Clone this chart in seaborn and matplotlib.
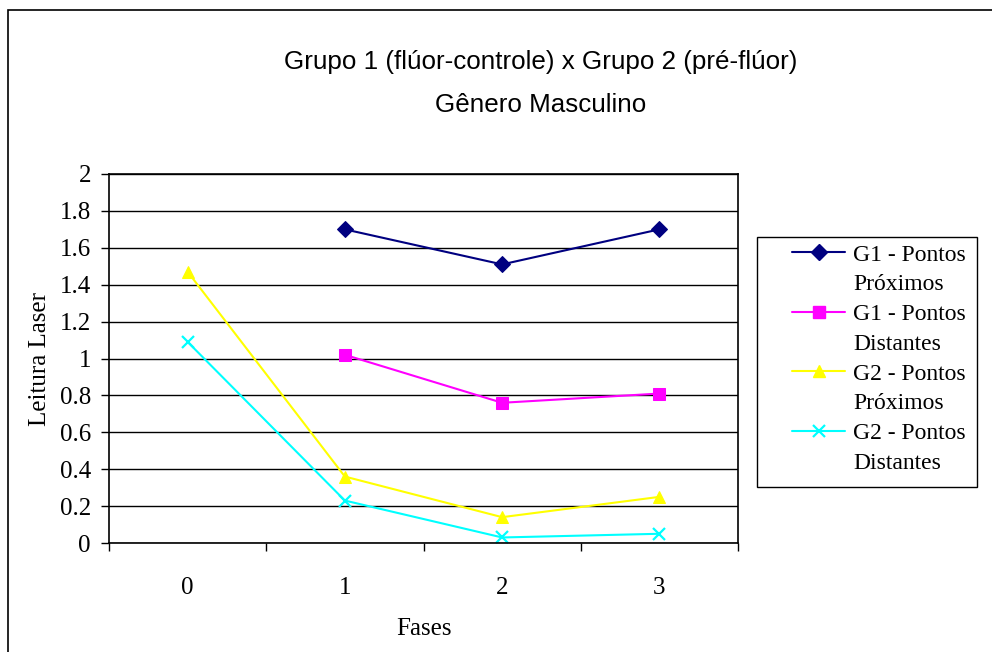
import matplotlib
matplotlib.use("Agg")
import matplotlib.pyplot as plt
from matplotlib.patches import Rectangle
from matplotlib.lines import Line2D
from matplotlib.ticker import FixedLocator, NullFormatter
import seaborn as sns
import pandas as pd

# Laser readings per phase for each group / measuring point
fases = [0, 1, 2, 3]
g1_proximos = [None, 1.70, 1.51, 1.70]
g1_distantes = [None, 1.02, 0.76, 0.81]
g2_proximos = [1.47, 0.36, 0.14, 0.25]
g2_distantes = [1.09, 0.23, 0.03, 0.05]

series_names = ["G1 - Pontos Próximos", "G1 - Pontos Distantes",
                "G2 - Pontos Próximos", "G2 - Pontos Distantes"]
series_values = [g1_proximos, g1_distantes, g2_proximos, g2_distantes]
y_ticks = [0, 0.2, 0.4, 0.6, 0.8, 1, 1.2, 1.4, 1.6, 1.8, 2]
y_tick_labels = ["0", "0.2", "0.4", "0.6", "0.8", "1", "1.2", "1.4", "1.6", "1.8", "2"]

rows = []
for name, vals in zip(series_names, series_values):
    for f, v in zip(fases, vals):
        if v is not None:
            rows.append({"Fases": f, "Leitura Laser": v, "Serie": name})
df = pd.DataFrame(rows)

sns.set_theme(style="white")
plt.rcParams["font.family"] = ["Liberation Serif", "DejaVu Serif"]
for key in ["text.color", "axes.labelcolor", "xtick.color", "ytick.color"]:
    plt.rcParams[key] = "black"

colors = ["#000080", "#FF00FF", "#FFFF00", "#00FFFF"]
markers = ["D", "s", "^", "x"]

fig = plt.figure(figsize=(9.92, 6.52), dpi=100)
ax = fig.add_axes([109 / 992, 1 - 543 / 652, (738 - 109) / 992, (543 - 174) / 652])

def marker_style(mk, col):
    if mk == "x":
        return dict(marker="x", markersize=9, markeredgewidth=1.6, markeredgecolor=col)
    return dict(marker=mk, markersize=8, markeredgecolor=col, markerfacecolor=col)

for name, col, mk in zip(series_names, colors, markers):
    sub = df[df["Serie"] == name]
    sns.lineplot(data=sub, x="Fases", y="Leitura Laser", color=col, linewidth=1.5,
                 ax=ax, legend=False, **marker_style(mk, col))

ax.set_xlim(-0.5, 3.5)
ax.set_ylim(0, 2)
ax.set_yticks(y_ticks)
ax.set_yticklabels(y_tick_labels, fontsize=18)
ax.set_xticks(fases)
ax.set_xticklabels([str(f) for f in fases], fontsize=18)
ax.xaxis.set_minor_locator(FixedLocator([-0.5, 0.5, 1.5, 2.5, 3.5]))
ax.xaxis.set_minor_formatter(NullFormatter())
ax.tick_params(axis="x", which="both", bottom=True)
ax.tick_params(axis="y", which="both", left=True)
ax.tick_params(axis="x", which="major", length=0, pad=24.5)
ax.tick_params(axis="x", which="minor", length=6, width=1, direction="out", color="black")
ax.tick_params(axis="y", which="major", length=6, width=1, direction="out", color="black", pad=7)
ax.grid(axis="y", color="black", linewidth=1)
ax.set_axisbelow(True)
for s in ax.spines.values():
    s.set_color("black")
    s.set_linewidth(1.2)
ax.set_xlabel("Fases", fontsize=18, labelpad=14)
ax.set_ylabel("Leitura Laser", fontsize=18, labelpad=6)

sans = ["Liberation Sans", "DejaVu Sans"]
fig.text(541 / 992, 1 - 62 / 652, "Grupo 1 (flúor-controle) x Grupo 2 (pré-flúor)",
         ha="center", va="center", fontsize=18.7, family=sans)
fig.text(541 / 992, 1 - 105 / 652, "Gênero Masculino",
         ha="center", va="center", fontsize=18.7, family=sans)

# legend: each series label wraps onto a second line, handle sits on the first
handles, labels = [], []
for name, col, mk in zip(series_names, colors, markers):
    first, second = name.split(" Pontos ")
    handles.append(Line2D([], [], color=col, linewidth=1.5, **marker_style(mk, col)))
    labels.append(first + " Pontos")
    handles.append(Line2D([], [], linestyle="none", marker=None))
    labels.append(second)

fig.legend(handles, labels, loc="upper left",
           bbox_to_anchor=(792 / 992, 1 - 244 / 652), fontsize=17,
           frameon=False, borderpad=0, borderaxespad=0,
           handlelength=2.25, handletextpad=0.35, labelspacing=0.35)

fig.patches.append(Rectangle((757 / 992, 1 - 487 / 652), 220 / 992, 250 / 652,
                             transform=fig.transFigure, fill=False,
                             edgecolor="black", linewidth=1.0))

# outer chart border
fig.patches.append(Rectangle((8 / 992, -0.2), 1.2, 1.2 - 10 / 652,
                             transform=fig.transFigure, fill=False,
                             edgecolor="black", linewidth=1.2))

fig.savefig("out.png", dpi=100)
